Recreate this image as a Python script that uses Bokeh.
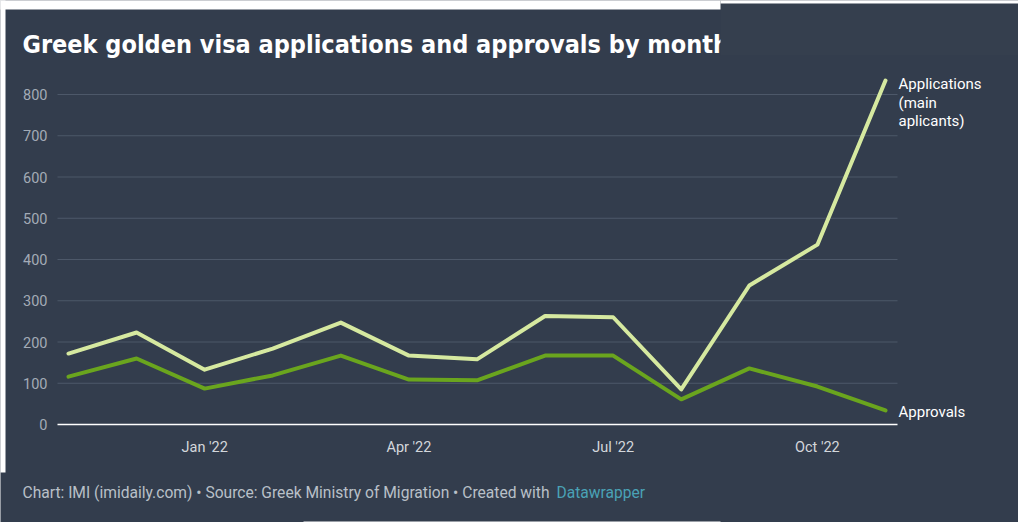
from bokeh.plotting import figure
from bokeh.models import Label, FixedTicker, BoxAnnotation, ColumnDataSource
from bokeh.embed import file_html
from bokeh.resources import INLINE

months = ["Nov '21", "Dec '21", "Jan '22", "Feb '22", "Mar '22", "Apr '22", "May '22",
          "Jun '22", "Jul '22", "Aug '22", "Sep '22", "Oct '22", "Nov '22"]
applications = [172, 223, 133, 184, 247, 167, 158, 263, 260, 85, 337, 436, 834]
approvals = [116, 160, 87, 119, 167, 109, 107, 167, 167, 61, 136, 92, 34]
y_ticks = [0, 100, 200, 300, 400, 500, 600, 700, 800]
x_tick_idx = [2, 5, 8, 11]

BG = "#333d4d"
APP_COL = "#d6e9a0"
APR_COL = "#6aa51e"

W, H = 1018, 522
PX_X = 68.083   # px per month
PX_Y = 0.4125   # px per unit
X0, Y0 = 68, 424  # screen position of first month / zero


def dx(sx):
    return (sx - X0) / PX_X


def dy(sy):
    return (Y0 - sy) / PX_Y


idx = list(range(len(months)))
src = ColumnDataSource(dict(x=idx, app=applications, apr=approvals))

p = figure(width=W, height=H, output_backend="svg", toolbar_location=None,
           x_range=(dx(0), dx(W)), y_range=(dy(H), dy(0)),
           min_border_left=0, min_border_right=0, min_border_top=0, min_border_bottom=0)
p.background_fill_color = BG
p.border_fill_color = BG
p.outline_line_color = None
p.grid.visible = False

# axes fixed inside the frame
p.yaxis.fixed_location = dx(57)
p.yaxis.ticker = FixedTicker(ticks=y_ticks)
p.yaxis.axis_line_color = None
p.yaxis.major_tick_line_color = None
p.yaxis.minor_tick_line_color = None
p.yaxis.major_label_text_color = "#a3abb6"
p.yaxis.major_label_text_font = "Roboto"
p.yaxis.major_label_text_font_size = "14.5px"
p.yaxis.major_label_standoff = 4

p.xaxis.fixed_location = 0
p.xaxis.ticker = FixedTicker(ticks=x_tick_idx)
p.xaxis.major_label_overrides = {i: months[i] for i in x_tick_idx}
p.xaxis.axis_line_color = None
p.xaxis.major_tick_line_color = None
p.xaxis.minor_tick_line_color = None
p.xaxis.major_label_text_color = "#d3d7dc"
p.xaxis.major_label_text_font = "Roboto"
p.xaxis.major_label_text_font_size = "14.5px"
p.xaxis.major_label_standoff = 8

# horizontal gridlines across the plotting area
gx0, gx1 = dx(57), dx(897)
grid_y = y_ticks[1:]
p.segment(x0=[gx0] * len(grid_y), x1=[gx1] * len(grid_y), y0=grid_y, y1=grid_y,
          line_color="#4d5869", line_width=1)
p.segment(x0=[gx0], x1=[gx1], y0=[0], y1=[0], line_color="#ffffff", line_width=1.5)

p.line("x", "app", source=src, line_color=APP_COL, line_width=4, line_join="round", line_cap="round")
p.line("x", "apr", source=src, line_color=APR_COL, line_width=4, line_join="round", line_cap="round")

# series labels
last = len(months) - 1
for i, t in enumerate(["Applications", "(main", "aplicants)"]):
    p.add_layout(Label(x=last, y=applications[-1], x_offset=13, y_offset=-4 - 18.5 * i,
                       text=t, text_color="#ffffff", text_font="Roboto",
                       text_font_size="15px", text_baseline="middle"))
p.add_layout(Label(x=last, y=approvals[-1], x_offset=13, y_offset=-2,
                   text="Approvals", text_color="#ffffff", text_font="Roboto",
                   text_font_size="15px", text_baseline="middle"))

# title
p.add_layout(Label(x=dx(22), y=dy(44), text="Greek golden visa applications and approvals by month",
                   text_color="#ffffff", text_font="DejaVu Sans Condensed", text_font_style="bold",
                   text_font_size="25px", text_baseline="middle"))
# overlapping panel from the screenshot, hiding the end of the title
p.add_layout(BoxAnnotation(left=dx(720), right=dx(W + 5), bottom=dy(55), top=dy(3),
                           fill_color="#353f4e", fill_alpha=1, line_color=None, level="overlay"))
# white screenshot margins
for l, r, b, t in [(-5, 720, 9, -5), (720, W + 5, 3, -5), (-5, 5, 472, -5), (303, 720, H + 5, 521)]:
    p.add_layout(BoxAnnotation(left=dx(l), right=dx(r), bottom=dy(b), top=dy(t),
                               fill_color="#ffffff", fill_alpha=1, line_color=None, level="overlay"))

# footer
foot = "Chart: IMI (imidaily.com) \u2022 Source: Greek Ministry of Migration \u2022 Created with"
p.add_layout(Label(x=dx(22), y=dy(492), text=foot, text_color="#b9c0c8",
                   text_font="Roboto", text_font_size="15.6px", text_baseline="middle"))
p.add_layout(Label(x=dx(556), y=dy(492), text="Datawrapper", text_color="#4aa2b6",
                   text_font="Roboto", text_font_size="15.6px", text_baseline="middle"))

open("out.html", "w").write(file_html(p, INLINE))
